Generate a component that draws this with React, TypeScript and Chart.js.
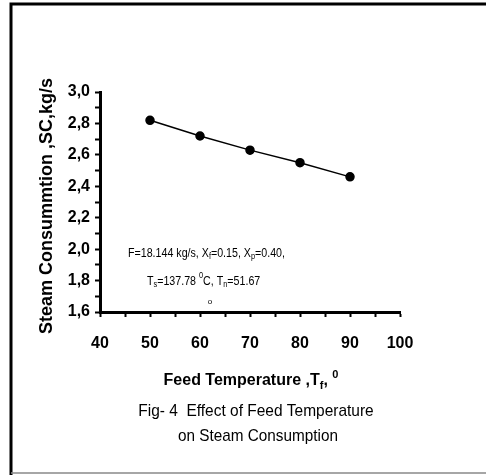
import React, { useEffect, useRef } from "react";
import { Chart, registerables } from "chart.js";

Chart.register(...registerables);

const feedTemps = [50, 60, 70, 80, 90];
const steamConsumption = [2.82, 2.72, 2.63, 2.55, 2.46];
const yTitle = "Steam Consummtion ,SC,kg/s";
const captionLines = ["Fig- 4  Effect of Feed Temperature", "on Steam Consumption"];

type Seg = { t: string; sub?: boolean; sup?: boolean };

const annotationLine1: Seg[] = [
  { t: "F=18.144 kg/s, X" }, { t: "f", sub: true }, { t: "=0.15, X" }, { t: "p", sub: true }, { t: "=0.40," },
];
const annotationLine2: Seg[] = [
  { t: "T" }, { t: "s", sub: true }, { t: "=137.78 " }, { t: "0", sup: true }, { t: "C, T" }, { t: "n", sub: true }, { t: "=51.67" },
];
const xTitleSegs: Seg[] = [
  { t: "Feed Temperature ,T" }, { t: "f", sub: true }, { t: ", " }, { t: "0", sup: true },
];
const captionSegs1: Seg[] = [{ t: captionLines[0] }];
const captionSegs2: Seg[] = [{ t: captionLines[1] }];

const FONT = "'Liberation Sans', Arial, sans-serif";

function drawSegs(
  ctx: CanvasRenderingContext2D,
  segs: Seg[],
  x: number,
  y: number,
  size: number,
  weight: string,
  align: "left" | "center",
  sx = 1
) {
  const small = Math.round(size * 0.7);
  const widths = segs.map((s) => {
    ctx.font = `${weight} ${s.sub || s.sup ? small : size}px ${FONT}`;
    return ctx.measureText(s.t).width;
  });
  const total = widths.reduce((a, b) => a + b, 0) * sx;
  const startX = align === "center" ? x - total / 2 : x;
  ctx.save();
  ctx.translate(startX, y);
  ctx.scale(sx, 1);
  ctx.textBaseline = "middle";
  ctx.textAlign = "left";
  let cx = 0;
  segs.forEach((s, i) => {
    ctx.font = `${weight} ${s.sub || s.sup ? small : size}px ${FONT}`;
    const dy = s.sub ? size * 0.3 : s.sup ? -size * 0.4 : 0;
    ctx.fillText(s.t, cx, dy);
    cx += widths[i];
  });
  ctx.restore();
}

const decorPlugin = {
  id: "decor",
  beforeDraw(chart: any) {
    const ctx = chart.ctx as CanvasRenderingContext2D;
    ctx.save();
    ctx.fillStyle = "#fff";
    ctx.fillRect(0, 0, chart.width, chart.height);
    ctx.strokeStyle = "#000";
    ctx.lineWidth = 3;
    ctx.beginPath();
    ctx.moveTo(11, 475);
    ctx.lineTo(11, 4);
    ctx.lineTo(486, 4);
    ctx.stroke();
    ctx.strokeStyle = "#888";
    ctx.lineWidth = 1.5;
    ctx.beginPath();
    ctx.moveTo(11, 473);
    ctx.lineTo(486, 473);
    ctx.stroke();
    ctx.restore();
  },
  afterDraw(chart: any) {
    const ctx = chart.ctx as CanvasRenderingContext2D;
    const a = chart.chartArea;
    ctx.save();
    ctx.fillStyle = "#000";
    // y title
    ctx.save();
    ctx.translate(a.left - 53, (a.top + a.bottom) / 2 + 4);
    ctx.rotate(-Math.PI / 2);
    ctx.font = `bold 18px ${FONT}`;
    ctx.textAlign = "center";
    ctx.textBaseline = "middle";
    ctx.fillText(yTitle, 0, 0);
    ctx.restore();
    // annotations
    drawSegs(ctx, annotationLine1, a.left + 28, a.bottom - 59, 13, "normal", "left", 0.82);
    drawSegs(ctx, annotationLine2, a.left + 47, a.bottom - 31, 13, "normal", "left", 0.82);
    ctx.font = `normal 8px ${FONT}`;
    ctx.textAlign = "center";
    ctx.textBaseline = "middle";
    ctx.fillText("o", a.left + 110, a.bottom - 10);
    // x title
    drawSegs(ctx, xTitleSegs, 251, 381, 16, "bold", "center", 1);
    // caption
    drawSegs(ctx, captionSegs1, 256, 411, 17, "normal", "center", 0.91);
    drawSegs(ctx, captionSegs2, 258, 436, 17, "normal", "center", 0.9);
    ctx.restore();
  },
};

export default function App() {
  const ref = useRef<HTMLCanvasElement | null>(null);
  useEffect(() => {
    if (!ref.current) return;
    const chart = new Chart(ref.current, {
      type: "scatter",
      data: {
        datasets: [
          {
            data: feedTemps.map((x, i) => ({ x, y: steamConsumption[i] })),
            showLine: true,
            borderColor: "#000",
            borderWidth: 1.5,
            backgroundColor: "#000",
            pointRadius: 4,
            pointStyle: "circle",
          },
        ],
      },
      options: {
        responsive: false,
        animation: false,
        layout: { padding: { left: 0, right: 86, top: 92, bottom: 0 } },
        plugins: { legend: { display: false }, tooltip: { enabled: false } },
        scales: {
          x: {
            type: "linear",
            min: 40,
            max: 100,
            afterFit: (s: any) => { s.height = 163; },
            border: { color: "#000", width: 3 },
            grid: { drawOnChartArea: false, drawTicks: true, tickLength: 5, tickWidth: 2, color: "#000" },
            ticks: {
              stepSize: 5,
              autoSkip: false,
              maxRotation: 0,
              padding: 17,
              color: "#000",
              font: { family: FONT, size: 16, weight: "bold" },
              callback: (v: any) => (Math.round(v) % 10 === 0 ? String(Math.round(v)) : ""),
            },
          },
          y: {
            type: "linear",
            min: 1.6,
            max: 3.0,
            afterFit: (s: any) => { s.width = 100; },
            border: { color: "#000", width: 3 },
            grid: { drawOnChartArea: false, drawTicks: true, tickLength: 5, tickWidth: 2, color: "#000" },
            ticks: {
              stepSize: 0.1,
              autoSkip: false,
              padding: 5,
              color: "#000",
              font: { family: FONT, size: 16, weight: "bold" },
              callback: (v: any) => {
                const k = Math.round(v * 10);
                return k % 2 === 0 ? (k / 10).toFixed(1).replace(".", ",") : "";
              },
            },
          },
        },
      },
      plugins: [decorPlugin],
    } as any);
    return () => chart.destroy();
  }, []);
  return (
    <div style={{ position: "absolute", left: 0, top: 0, width: 486, height: 475, background: "#fff" }}>
      <canvas ref={ref} width={486} height={475} />
    </div>
  );
}
